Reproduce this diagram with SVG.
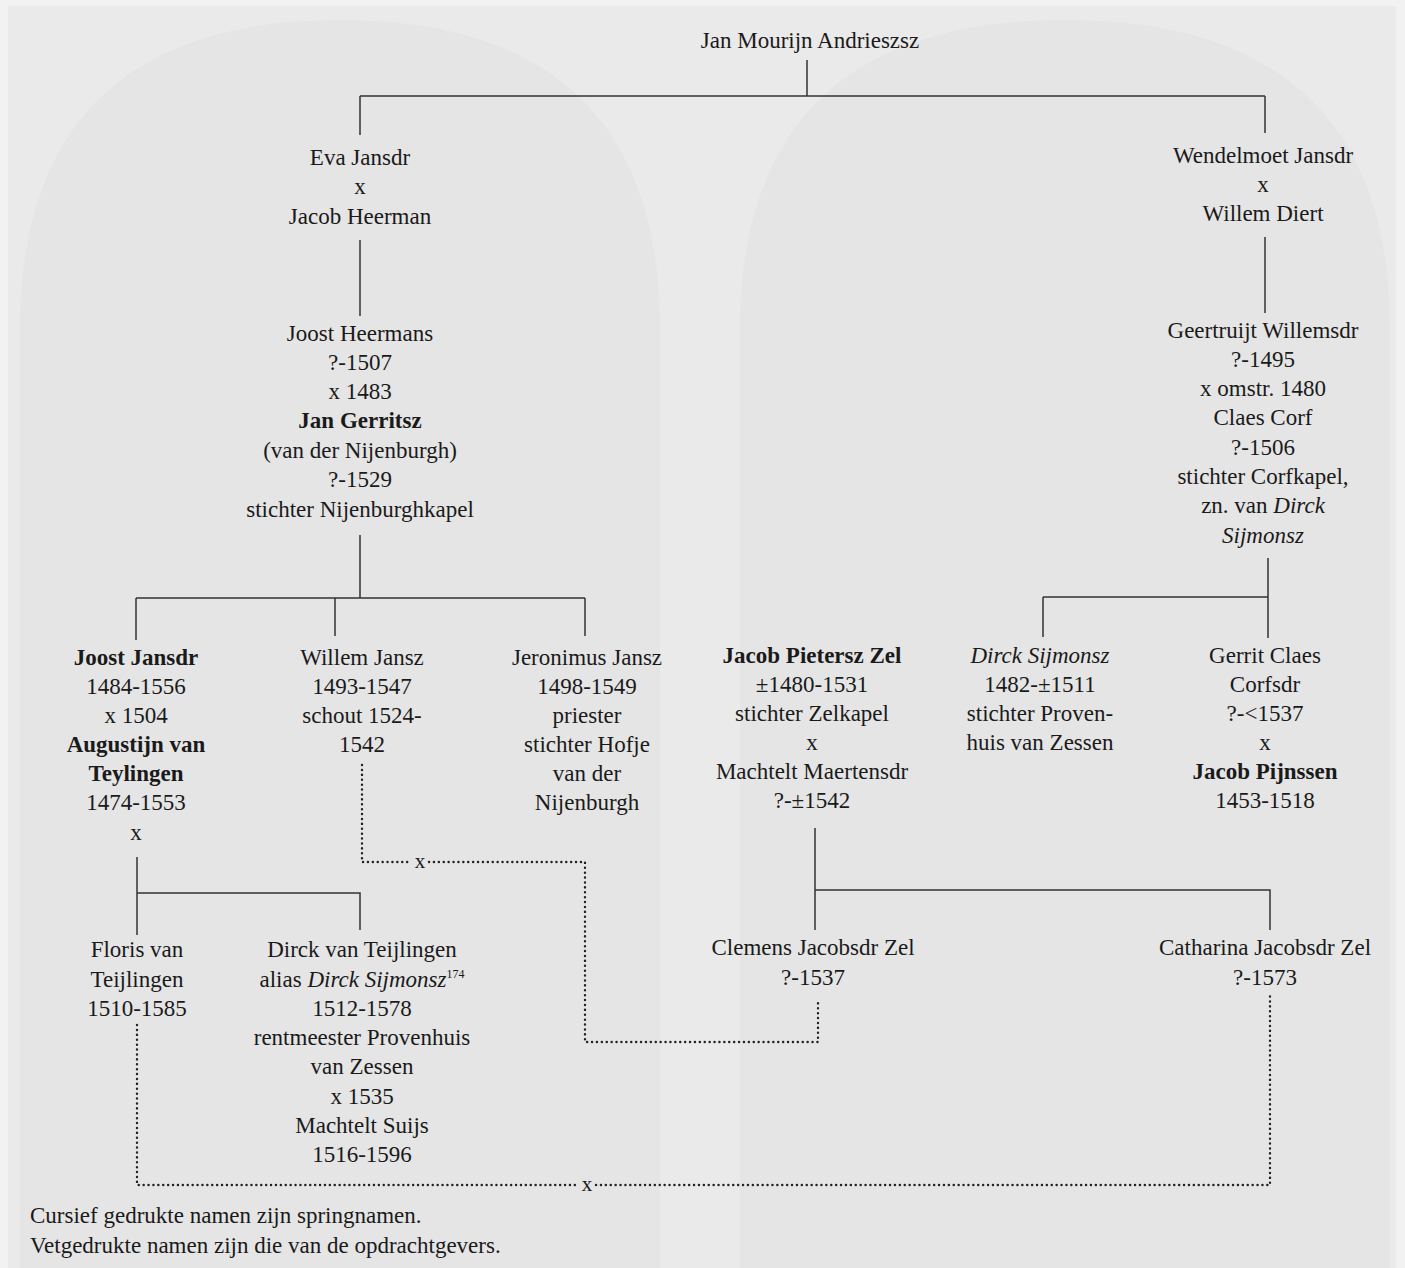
<svg xmlns="http://www.w3.org/2000/svg" width="1405" height="1268" viewBox="0 0 1405 1268">
<style>
.t{font-family:"Liberation Serif","DejaVu Serif",serif;font-size:23px;fill:#1a1a1a;text-anchor:middle}
.b{font-weight:bold}
.i{font-style:italic}
.l{text-anchor:start}
.ln{fill:none;stroke:#333333;stroke-width:1.5}
.dt{fill:none;stroke:#222222;stroke-width:2.4;stroke-dasharray:0.1 4.8;stroke-linecap:round}
.sx{font-size:21px}
</style>
<rect width="1405" height="1268" fill="#f2f2f2"/>
<rect x="8" y="6" width="1388" height="1262" fill="#eaeaea"/>
<path d="M20 1268 V330 Q20 20 340 20 Q660 20 660 330 V1268 Z" fill="#e5e5e5"/>
<path d="M740 1268 V330 Q740 20 1065 20 Q1390 20 1390 330 V1268 Z" fill="#e5e5e5"/>

<g id="connectors">
<path class="ln" d="M807 60 V96 M360 96 H1265 M360 96 V135 M1265 96 V133"/>
<path class="ln" d="M360 240 V316"/>
<path class="ln" d="M1265 237 V313"/>
<path class="ln" d="M360 535 V598 M136 598 H585 M136 598 V640 M335 598 V636 M585 598 V636"/>
<path class="ln" d="M1268 558 V638 M1043 597 H1268 M1043 597 V637"/>
<path class="ln" d="M137 857 V935 M137 893 H360 V930"/>
<path class="ln" d="M815 828 V930 M815 890 H1270 V930"/>
<path class="dt" d="M362 765 V862 H412 M429 862 H585 V1042 H818 V1000"/>
<path class="dt" d="M137 1025 V1185 H579 M596 1185 H1270 V995"/>
<text class="t sx" x="420" y="868">x</text>
<text class="t sx" x="587" y="1191">x</text>
</g>

<g id="n-jan-mourijn"><text class="t" x="810" y="48">Jan Mourijn Andrieszsz</text></g>

<g id="n-eva">
<text class="t" x="360" y="165">Eva Jansdr</text>
<text class="t" x="360" y="194">x</text>
<text class="t" x="360" y="224">Jacob Heerman</text>
</g>

<g id="n-wendelmoet">
<text class="t" x="1263" y="163">Wendelmoet Jansdr</text>
<text class="t" x="1263" y="192">x</text>
<text class="t" x="1263" y="221">Willem Diert</text>
</g>

<g id="n-joost-heermans">
<text class="t" x="360" y="341">Joost Heermans</text>
<text class="t" x="360" y="370">?-1507</text>
<text class="t" x="360" y="399">x 1483</text>
<text class="t b" x="360" y="428">Jan Gerritsz</text>
<text class="t" x="360" y="458">(van der Nijenburgh)</text>
<text class="t" x="360" y="487">?-1529</text>
<text class="t" x="360" y="517">stichter Nijenburghkapel</text>
</g>

<g id="n-geertruijt">
<text class="t" x="1263" y="338">Geertruijt Willemsdr</text>
<text class="t" x="1263" y="367">?-1495</text>
<text class="t" x="1263" y="396">x omstr. 1480</text>
<text class="t" x="1263" y="425">Claes Corf</text>
<text class="t" x="1263" y="455">?-1506</text>
<text class="t" x="1263" y="484">stichter Corfkapel,</text>
<text class="t" x="1263" y="513">zn. van <tspan class="i">Dirck</tspan></text>
<text class="t i" x="1263" y="543">Sijmonsz</text>
</g>

<g id="n-joost-jansdr">
<text class="t b" x="136" y="665">Joost Jansdr</text>
<text class="t" x="136" y="694">1484-1556</text>
<text class="t" x="136" y="723">x 1504</text>
<text class="t b" x="136" y="752">Augustijn van</text>
<text class="t b" x="136" y="781">Teylingen</text>
<text class="t" x="136" y="810">1474-1553</text>
<text class="t" x="136" y="840">x</text>
</g>

<g id="n-willem-jansz">
<text class="t" x="362" y="665">Willem Jansz</text>
<text class="t" x="362" y="694">1493-1547</text>
<text class="t" x="362" y="723">schout 1524-</text>
<text class="t" x="362" y="752">1542</text>
</g>

<g id="n-jeronimus">
<text class="t" x="587" y="665">Jeronimus Jansz</text>
<text class="t" x="587" y="694">1498-1549</text>
<text class="t" x="587" y="723">priester</text>
<text class="t" x="587" y="752">stichter Hofje</text>
<text class="t" x="587" y="781">van der</text>
<text class="t" x="587" y="810">Nijenburgh</text>
</g>

<g id="n-jacob-pietersz">
<text class="t b" x="812" y="663">Jacob Pietersz Zel</text>
<text class="t" x="812" y="692">±1480-1531</text>
<text class="t" x="812" y="721">stichter Zelkapel</text>
<text class="t" x="812" y="750">x</text>
<text class="t" x="812" y="779">Machtelt Maertensdr</text>
<text class="t" x="812" y="808">?-±1542</text>
</g>

<g id="n-dirck-sijmonsz">
<text class="t i" x="1040" y="663">Dirck Sijmonsz</text>
<text class="t" x="1040" y="692">1482-±1511</text>
<text class="t" x="1040" y="721">stichter Proven-</text>
<text class="t" x="1040" y="750">huis van Zessen</text>
</g>

<g id="n-gerrit-claes">
<text class="t" x="1265" y="663">Gerrit Claes</text>
<text class="t" x="1265" y="692">Corfsdr</text>
<text class="t" x="1265" y="721">?-&lt;1537</text>
<text class="t" x="1265" y="750">x</text>
<text class="t b" x="1265" y="779">Jacob Pijnssen</text>
<text class="t" x="1265" y="808">1453-1518</text>
</g>

<g id="n-floris">
<text class="t" x="137" y="957">Floris van</text>
<text class="t" x="137" y="987">Teijlingen</text>
<text class="t" x="137" y="1016">1510-1585</text>
</g>

<g id="n-dirck-teijlingen">
<text class="t" x="362" y="957">Dirck van Teijlingen</text>
<text class="t" x="362" y="987">alias <tspan class="i">Dirck Sijmonsz</tspan><tspan font-size="12" dy="-9">174</tspan></text>
<text class="t" x="362" y="1016">1512-1578</text>
<text class="t" x="362" y="1045">rentmeester Provenhuis</text>
<text class="t" x="362" y="1074">van Zessen</text>
<text class="t" x="362" y="1104">x 1535</text>
<text class="t" x="362" y="1133">Machtelt Suijs</text>
<text class="t" x="362" y="1162">1516-1596</text>
</g>

<g id="n-clemens">
<text class="t" x="813" y="955">Clemens Jacobsdr Zel</text>
<text class="t" x="813" y="985">?-1537</text>
</g>

<g id="n-catharina">
<text class="t" x="1265" y="955">Catharina Jacobsdr Zel</text>
<text class="t" x="1265" y="985">?-1573</text>
</g>

<g id="legend">
<text class="t l" x="30" y="1223">Cursief gedrukte namen zijn springnamen.</text>
<text class="t l" x="30" y="1253">Vetgedrukte namen zijn die van de opdrachtgevers.</text>
</g>
</svg>
